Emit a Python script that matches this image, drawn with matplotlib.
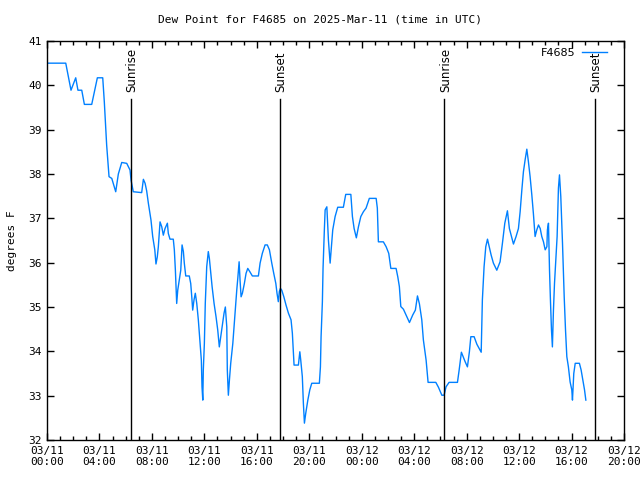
import datetime as dt
import matplotlib
matplotlib.use("Agg")
import matplotlib.pyplot as plt
from matplotlib.ticker import MultipleLocator, FixedLocator


# hours since 2025-03-11 00:00 UTC
hours = [0.00, 1.43, 1.83, 2.19, 2.29, 2.36, 2.65, 2.85, 3.41, 3.84, 4.25, 4.37, 4.55, 4.68, 4.73,
         4.94, 5.24, 5.44, 5.70, 6.08, 6.33, 6.41, 6.58, 7.22, 7.35, 7.48, 7.60, 7.73, 7.93, 8.06,
         8.22, 8.31, 8.41, 8.49, 8.62, 8.75, 8.87, 9.00, 9.18, 9.25, 9.38, 9.63, 9.71, 9.79, 9.86,
         9.89, 9.97, 10.09, 10.20, 10.30, 10.40, 10.47, 10.58, 10.85, 10.96, 11.04, 11.11, 11.21,
         11.31, 11.42, 11.54, 11.67, 11.77, 11.82, 11.88, 11.92, 12.00, 12.07, 12.18, 12.30, 12.38,
         12.49, 12.59, 12.74, 12.89, 13.02, 13.14, 13.25, 13.35, 13.50, 13.60, 13.71, 13.75, 13.83,
         13.91, 14.01, 14.17, 14.26, 14.36, 14.47, 14.55, 14.65, 14.72, 14.80, 14.90, 15.05, 15.18,
         15.31, 15.46, 15.66, 16.12, 16.25, 16.42, 16.63, 16.80, 16.96, 17.14, 17.29, 17.45, 17.54,
         17.64, 17.72, 17.80, 17.90, 18.06, 18.23, 18.41, 18.61, 18.71, 18.79, 18.84, 19.17, 19.28,
         19.35, 19.47, 19.55, 19.63, 19.73, 19.89, 20.04, 20.19, 20.77, 20.85, 20.90, 21.00, 21.05,
         21.11, 21.15, 21.21, 21.34, 21.46, 21.59, 21.79, 21.97, 22.17, 22.60, 22.78, 23.17, 23.29,
         23.42, 23.59, 23.75, 23.93, 24.13, 24.33, 24.58, 25.10, 25.19, 25.27, 25.65, 25.86, 26.06,
         26.22, 26.62, 26.75, 26.87, 26.98, 27.18, 27.44, 27.64, 27.89, 28.09, 28.25, 28.40, 28.58,
         28.70, 28.91, 29.06, 29.65, 29.85, 30.11, 30.28, 30.43, 30.66, 31.30, 31.43, 31.60, 31.88,
         32.06, 32.21, 32.32, 32.57, 32.78, 33.11, 33.20, 33.33, 33.46, 33.59, 33.66, 33.87, 34.04,
         34.30, 34.55, 34.73, 34.91, 35.11, 35.26, 35.57, 35.77, 35.95, 36.08, 36.21, 36.33, 36.46,
         36.59, 36.71, 36.84, 36.97, 37.09, 37.22, 37.35, 37.48, 37.61, 37.73, 37.86, 37.99, 38.12,
         38.16, 38.24, 38.32, 38.39, 38.47, 38.54, 38.62, 38.70, 38.80, 38.90, 39.00, 39.08, 39.18,
         39.31, 39.44, 39.54, 39.64, 39.76, 39.89, 40.02, 40.07, 40.17, 40.28, 40.60, 40.73, 40.86,
         40.99, 41.09]

dewpoint = [40.50, 40.50, 39.89, 40.17, 40.00, 39.89, 39.89, 39.57, 39.57, 40.17, 40.17, 39.63, 38.65,
            38.16, 37.94, 37.90, 37.60, 38.00, 38.26, 38.24, 38.09, 37.86, 37.60, 37.58, 37.88, 37.79,
            37.62, 37.34, 36.96, 36.59, 36.29, 35.97, 36.13, 36.36, 36.92, 36.81, 36.62, 36.77, 36.89,
            36.66, 36.53, 36.53, 36.29, 35.83, 35.31, 35.08, 35.38, 35.61, 35.83, 36.40, 36.25, 35.99,
            35.70, 35.70, 35.53, 35.23, 34.93, 35.16, 35.31, 35.08, 34.71, 34.18, 33.80, 33.20, 32.90,
            33.58, 34.18, 35.08, 35.91, 36.25, 36.10, 35.76, 35.46, 35.08, 34.78, 34.48, 34.10, 34.33,
            34.55, 34.86, 35.00, 34.55, 33.58, 33.01, 33.35, 33.73, 34.18, 34.55, 34.93, 35.38, 35.65,
            36.02, 35.61, 35.23, 35.31, 35.53, 35.76, 35.87, 35.80, 35.70, 35.70, 35.99, 36.21, 36.40,
            36.40, 36.29, 35.99, 35.76, 35.53, 35.31, 35.12, 35.35, 35.42, 35.38, 35.23, 35.04, 34.86,
            34.71, 34.41, 33.96, 33.69, 33.69, 33.99, 33.80, 33.43, 32.83, 32.38, 32.60, 32.90, 33.13,
            33.28, 33.28, 33.65, 34.33, 35.12, 35.87, 36.44, 36.74, 37.19, 37.26, 36.51, 35.99, 36.74,
            37.04, 37.25, 37.25, 37.54, 37.54, 37.04, 36.77, 36.56, 36.81, 37.04, 37.15, 37.23, 37.45,
            37.45, 37.23, 36.47, 36.47, 36.36, 36.21, 35.87, 35.87, 35.68, 35.46, 35.01, 34.95, 34.78,
            34.65, 34.82, 34.93, 35.25, 35.07, 34.71, 34.26, 33.80, 33.30, 33.30, 33.19, 33.01, 33.01,
            33.20, 33.30, 33.30, 33.58, 33.98, 33.77, 33.65, 33.99, 34.33, 34.33, 34.16, 33.98, 35.16,
            35.91, 36.36, 36.53, 36.44, 36.17, 35.99, 35.83, 36.02, 36.44, 36.89, 37.17, 36.77, 36.42,
            36.59, 36.77, 37.15, 37.64, 38.05, 38.32, 38.56, 38.28, 37.94, 37.53, 37.11, 36.59, 36.74,
            36.85, 36.77, 36.59, 36.47, 36.29, 36.36, 36.74, 36.89, 35.83, 35.16, 34.48, 34.10, 34.93,
            35.53, 36.06, 36.59, 37.68, 37.98, 37.49, 36.44, 35.23, 34.48, 33.88, 33.65, 33.31, 33.13,
            32.90, 33.50, 33.73, 33.73, 33.58, 33.35, 33.13, 32.90]

sun_hours = [6.42, 17.78, 30.30, 41.80]
sun_labels = ["Sunrise", "Sunset", "Sunrise", "Sunset"]

start = dt.datetime(2025, 3, 11)
tick_hours = list(range(0, 45, 4))
tick_labels = [(start + dt.timedelta(hours=h)).strftime("%m/%d\n%H:%M") for h in tick_hours]

mono = "DejaVu Sans Mono"

fig = plt.figure(figsize=(6.4, 4.8), dpi=100)
ax = fig.add_axes([47 / 640, 40 / 480, 577 / 640, 399 / 480])

ax.plot(hours, dewpoint, color="#0080ff", lw=1.0, label="F4685")

for h, lab in zip(sun_hours, sun_labels):
    ax.plot([h, h], [32, 39.69], color="black", lw=1.0)
    ax.text(h + 0.08, 39.85, lab, rotation=90, ha="center", va="bottom",
            fontsize=8.5, family="DejaVu Sans")

ax.set_xlim(0, 44)
ax.set_ylim(32, 41)
ax.xaxis.set_major_locator(FixedLocator(tick_hours))
ax.xaxis.set_minor_locator(MultipleLocator(1))
ax.set_xticklabels(tick_labels, family=mono, fontsize=8)
ax.yaxis.set_major_locator(MultipleLocator(1))
for t in ax.get_yticklabels():
    t.set_family(mono)
    t.set_fontsize(8)

ax.tick_params(which="both", direction="in", top=True, right=True, width=1, pad=4)
ax.tick_params(which="major", length=5)
ax.tick_params(which="minor", length=3)
for s in ax.spines.values():
    s.set_linewidth(1)

ax.set_ylabel("degrees F", family=mono, fontsize=8, labelpad=8)
fig.text(0.5, 1 - 19 / 480, "Dew Point for F4685 on 2025-Mar-11 (time in UTC)",
         ha="center", va="center", family=mono, fontsize=8)

ax.legend(loc="upper right", bbox_to_anchor=(0.979, 0.993), frameon=False, markerfirst=False,
          handlelength=2.3, handletextpad=0.6, borderaxespad=0,
          prop={"family": "DejaVu Sans", "size": 8})

plt.savefig("out.png", dpi=100)
